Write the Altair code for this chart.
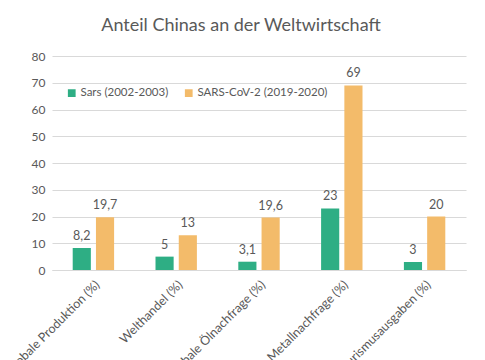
import altair as alt
import pandas as pd

categories = [
    "Globale Produktion (%)",
    "Welthandel (%)",
    "Globale Ölnachfrage (%)",
    "Globale Metallnachfrage (%)",
    "Globale Tourismusausgaben (%)",
]
series_names = ["Sars (2002-2003)", "SARS-CoV-2 (2019-2020)"]
sars_values = [8.2, 5, 3.1, 23, 3]
cov2_values = [19.7, 13, 19.6, 69, 20]
colors = ["#2eae84", "#f3bb6a"]
y_ticks = [0, 10, 20, 30, 40, 50, 60, 70, 80]

rows = []
for c, a, b in zip(categories, sars_values, cov2_values):
    rows.append({"cat": c, "series": series_names[0], "v": a})
    rows.append({"cat": c, "series": series_names[1], "v": b})
df = pd.DataFrame(rows)

FONT = "Lato"
GRAY = "#595959"

x = alt.X("cat:N", sort=categories, title=None,
          scale=alt.Scale(paddingInner=0.5, paddingOuter=0.25),
          axis=alt.Axis(labelAngle=-45, labelFontSize=12.5, labelColor=GRAY,
                        labelFont=FONT, ticks=False, domainColor="#d9d9d9",
                        labelPadding=8, labelLimit=300))
xoff = alt.XOffset("series:N", sort=series_names,
                   scale=alt.Scale(paddingInner=0.22, paddingOuter=0))
y = alt.Y("v:Q", title=None,
          scale=alt.Scale(domain=[0, 80]),
          axis=alt.Axis(values=y_ticks, labelFontSize=12, labelColor=GRAY,
                        labelFont=FONT, ticks=False, domain=False,
                        gridColor="#d9d9d9", labelPadding=7, labelOverlap=False))

base = alt.Chart(df).encode(x=x, xOffset=xoff, y=y)

bars = base.mark_bar().encode(
    color=alt.Color("series:N", sort=series_names,
                    scale=alt.Scale(domain=series_names, range=colors),
                    legend=alt.Legend(title=None, orient="none", direction="horizontal",
                                      legendX=14, legendY=31, symbolType="square",
                                      symbolSize=60, labelFontSize=11.5,
                                      labelColor=GRAY, labelFont=FONT,
                                      columnPadding=14, symbolStrokeWidth=0,
                                      labelOffset=3)),
)

labels = base.transform_calculate(
    lab="replace(format(datum.v, ''), '.', ',')"
).mark_text(baseline="alphabetic", dy=-8, fontSize=12.5, color=GRAY, font=FONT).encode(
    text="lab:N",
)

chart = alt.layer(bars, labels).properties(
    width=414, height=214,
    title=alt.Title("Anteil Chinas an der Weltwirtschaft", fontSize=18, color=GRAY,
                    font=FONT, fontWeight="normal", anchor="middle", dx=-18, offset=15),
    autosize=alt.AutoSizeParams(type="none"),
    padding={"left": 44, "top": 48, "right": 11, "bottom": 110},
).configure_view(stroke=None)

chart.save("out.html", embed_options={"renderer": "svg", "actions": False})
